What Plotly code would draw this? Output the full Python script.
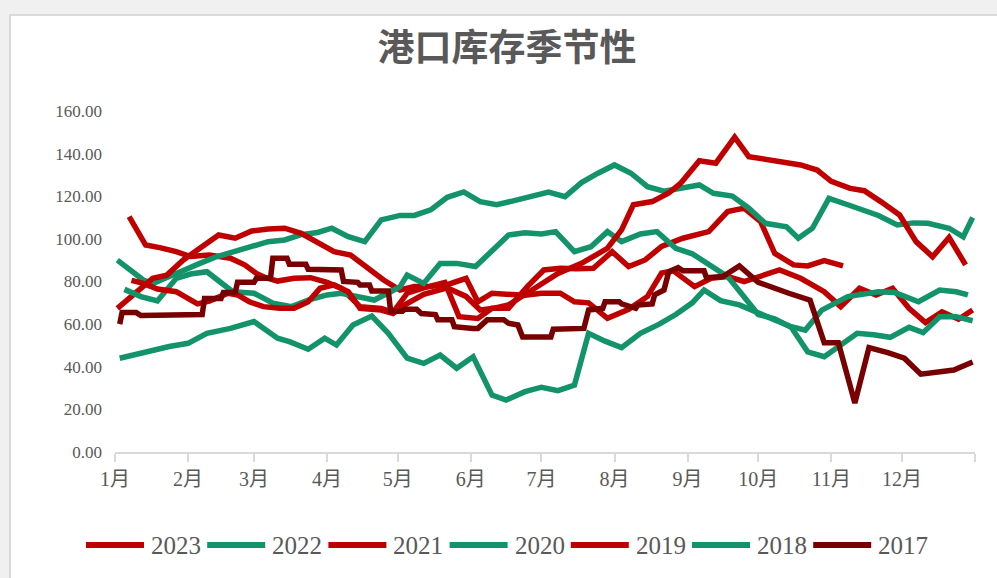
import pandas as pd
import plotly.graph_objects as go

TITLE = "港口库存季节性"
MONTH_LABELS = [f"{m}月" for m in range(1, 13)]
Y_TICKS = [0, 20, 40, 60, 80, 100, 120, 140, 160]

# day offsets from Jan 1 (seasonal axis) and inventory values
day_2023 = [6, 13, 19, 26, 32, 40, 49, 55, 60, 64, 69, 76, 83, 90, 96, 104, 113, 118, 124, 131,
            140, 146, 154, 160, 167, 175, 182, 189, 196, 203, 211, 218, 225, 232, 241, 252, 260, 267, 274, 280,
            288, 294, 301, 309]
val_2023 = [110.4, 97.1, 95.9, 94.0, 91.7, 92.4, 90.9, 87.8, 83.8, 81.8, 80.2, 81.5, 81.8, 79.6, 76.8, 68.2, 67.4, 65.5, 74.5, 77.0,
            79.5, 63.5, 62.7, 67.4, 67.4, 77.6, 85.4, 86.2, 86.0, 86.2, 94.0, 87.0, 90.1, 96.5, 100.3, 103.4, 112.8, 114.4, 108.1, 93.2,
            87.8, 87.3, 89.8, 87.3]

day_2022 = [1, 12, 16, 22, 26, 36, 43, 53, 65, 72, 79, 86, 92, 99, 106, 113, 121, 127, 134, 141,
            148, 155, 162, 169, 177, 184, 191, 198, 205, 212, 219, 226, 233, 240, 248, 254, 262, 269, 276, 285,
            290, 296, 303, 311, 318, 324, 332, 339, 345, 354, 360, 364]
val_2022 = [90.0, 80.7, 79.0, 82.3, 83.8, 88.5, 91.6, 94.8, 98.7, 99.5, 102.0, 103.0, 105.0, 101.0, 98.7, 108.9, 111.0, 111.0, 113.6, 119.5,
            122.0, 117.5, 116.0, 117.8, 119.8, 122.0, 119.8, 126.4, 130.8, 134.7, 130.8, 124.5, 122.4, 123.7, 125.3, 121.4, 120.1, 114.4, 107.3, 105.7,
            100.3, 105.0, 119.0, 116.0, 113.5, 111.0, 106.5, 107.5, 107.3, 105.0, 101.0, 110.0]

day_2021 = [1, 8, 16, 22, 29, 36, 44, 51, 58, 65, 72, 79, 86, 93, 100, 107, 114, 121, 127, 133,
            141, 149, 154, 160, 167, 174, 181, 189, 195, 201, 209, 218, 226, 232, 237, 246, 253, 260, 267, 274,
            282, 291, 301, 308, 316, 323, 330, 337, 344, 351, 358, 364]
val_2021 = [67.4, 73.7, 81.5, 83.0, 90.1, 95.6, 101.8, 100.3, 103.7, 104.6, 105.0, 102.6, 98.0, 94.0, 92.4, 86.2, 80.7, 76.0, 77.6, 77.6,
            78.5, 81.5, 70.5, 74.5, 73.7, 73.5, 74.5, 74.5, 70.5, 70.0, 62.7, 67.0, 73.0, 84.0, 85.0, 77.6, 81.5, 82.3, 80.0, 82.3,
            85.4, 81.5, 75.2, 68.2, 76.8, 73.7, 76.8, 67.4, 60.7, 65.8, 62.3, 66.6]

day_2020 = [4, 11, 18, 26, 32, 39, 50, 59, 67, 75, 82, 90, 96, 103, 110, 117, 121, 124, 131, 138,
            145, 153, 160, 167, 174, 181, 187, 195, 202, 209, 215, 223, 230, 238, 245, 252, 260, 265, 273, 280,
            287, 294, 301, 307, 315, 322, 329, 337, 343, 350, 357, 364]
val_2020 = [76.3, 72.9, 70.9, 81.5, 83.5, 84.6, 75.2, 74.5, 69.8, 68.2, 71.3, 73.7, 74.5, 72.9, 71.3, 75.2, 77.6, 83.0, 79.1, 88.5,
            88.5, 87.0, 94.8, 101.8, 102.9, 102.3, 103.4, 94.0, 96.3, 103.4, 98.7, 102.3, 103.4, 95.6, 93.0, 87.8, 82.3, 75.5, 64.5, 62.5,
            58.5, 47.0, 44.7, 49.4, 55.7, 55.0, 53.8, 58.5, 56.0, 63.5, 63.5, 61.6]

day_2019 = [7, 12, 18, 26, 35, 40, 48, 52, 57, 63, 70, 76, 82, 87, 93, 99, 104, 113, 118, 123,
            131, 141, 149, 155, 161, 167, 177, 188, 198, 209, 215, 220, 228, 235, 240, 248, 255, 263, 269, 276,
            282, 291, 298, 304, 312, 318, 325, 333, 340, 347, 354, 361]
val_2019 = [80.5, 79.1, 76.5, 75.2, 69.5, 70.8, 74.5, 73.7, 70.5, 68.2, 67.4, 67.4, 70.5, 76.8, 78.4, 75.2, 67.4, 66.6, 65.0, 69.0,
            74.0, 77.0, 73.0, 66.6, 67.5, 69.0, 76.0, 83.8, 88.5, 95.6, 104.2, 116.0, 117.5, 121.5, 126.0, 136.7, 135.5, 147.7, 138.6, 137.5,
            136.4, 134.7, 132.3, 127.0, 123.7, 122.6, 117.5, 111.2, 98.7, 91.6, 100.7, 87.8]

day_2018 = [2, 9, 16, 23, 31, 39, 49, 59, 69, 74, 82, 89, 94, 101, 109, 116, 124, 131, 138, 145,
            152, 160, 166, 174, 181, 188, 195, 201, 208, 215, 223, 231, 238, 245, 250, 257, 265, 272, 280, 287,
            293, 300, 311, 324, 331, 341, 350, 357, 362]
val_2018 = [44.0, 46.0, 48.0, 49.5, 51.0, 55.7, 58.0, 61.2, 53.4, 51.8, 48.2, 53.4, 50.2, 59.6, 63.8, 55.7, 44.0, 41.6, 45.5, 39.3,
            44.7, 26.7, 24.4, 28.3, 30.4, 28.8, 31.4, 55.7, 52.0, 49.0, 55.7, 60.0, 64.5, 70.0, 76.0, 71.0, 69.0, 65.5, 62.0, 58.8,
            57.2, 66.6, 72.9, 75.2, 74.8, 70.5, 76.0, 75.2, 73.7]

day_2017 = [2, 3, 9, 11, 37, 38, 45, 46, 51, 52, 59, 60, 66, 67, 73, 74, 81, 82, 96, 97,
            103, 104, 108, 109, 116, 117, 122, 123, 128, 130, 136, 137, 143, 144, 152, 154, 158, 165, 167, 171,
            173, 185, 186, 199, 201, 207, 208, 214, 215, 221, 222, 228, 229, 233, 235, 239, 241, 250, 251, 258,
            265, 273, 286, 295, 301, 307, 314, 320, 328, 335, 342, 350, 356, 364]
val_2017 = [60.0, 65.4, 65.4, 64.0, 64.5, 72.0, 72.0, 74.8, 74.8, 79.6, 79.6, 81.5, 81.5, 90.9, 90.9, 88.1, 88.1, 85.7, 85.4, 80.0,
            79.6, 78.4, 78.4, 75.5, 75.5, 66.0, 66.0, 67.0, 67.0, 65.0, 64.5, 62.0, 62.0, 58.8, 58.0, 58.0, 62.0, 62.0, 60.4, 59.6,
            54.0, 54.0, 57.6, 58.0, 66.6, 67.4, 70.5, 70.5, 69.5, 67.4, 69.0, 69.5, 73.7, 76.0, 84.6, 86.5, 85.0, 85.0, 81.8, 82.3,
            87.3, 79.6, 74.5, 71.2, 51.3, 51.3, 23.0, 49.0, 46.6, 44.0, 36.5, 37.3, 38.5, 42.2]

RED = "#C00000"
GREEN = "#12936A"
DARK_RED = "#780000"

series = [
    ("2023", day_2023, val_2023, RED),
    ("2022", day_2022, val_2022, GREEN),
    ("2021", day_2021, val_2021, RED),
    ("2020", day_2020, val_2020, GREEN),
    ("2019", day_2019, val_2019, RED),
    ("2018", day_2018, val_2018, GREEN),
    ("2017", day_2017, val_2017, DARK_RED),
]

base = pd.Timestamp("2023-01-01")


def to_dates(days):
    return [base + pd.Timedelta(days=d) for d in days]


fig = go.Figure()
for name, days, vals, color in series:
    fig.add_trace(go.Scatter(
        x=to_dates(days), y=vals, mode="lines", name=name,
        line=dict(color=color, width=5.5), showlegend=False,
    ))

# plot area in pixels
L, R, T, B = 115, 22, 111, 126
W, H = 997, 578
pw, ph = W - L - R, H - T - B


def px_x(x):
    return (x - L) / pw


def px_y(y):
    return (H - B - y) / ph


TEXT = "#595959"
FONT = "Liberation Serif, Noto Sans CJK SC, serif"

shapes = [dict(type="rect", xref="paper", yref="paper", layer="below",
               x0=px_x(10), x1=px_x(1010), y0=px_y(600), y1=px_y(15),
               fillcolor="white", line=dict(color="#D0D0D0", width=1.5))]
annotations = []
# legend drawn by hand so the line samples match the long Excel swatches
for i, (name, _, _, color) in enumerate(series):
    x0 = 86 + i * 121.2
    shapes.append(dict(type="line", xref="paper", yref="paper",
                       x0=px_x(x0), x1=px_x(x0 + 58), y0=px_y(545), y1=px_y(545),
                       line=dict(color=color, width=6)))
    annotations.append(dict(xref="paper", yref="paper", x=px_x(x0 + 63), y=px_y(545),
                            text=name, showarrow=False, xanchor="left", yanchor="middle",
                            font=dict(family=FONT, size=25, color=TEXT)))

month_starts = [base + pd.DateOffset(months=m) for m in range(13)]

fig.update_layout(
    width=W, height=H,
    margin=dict(l=L, r=R, t=T, b=B),
    paper_bgcolor="#F0F0F0",
    plot_bgcolor="rgba(0,0,0,0)",
    title=dict(text=f"<b>{TITLE}</b>", x=507 / W, xanchor="center", y=1 - 48 / H, yanchor="middle",
               font=dict(family="Noto Sans CJK SC", size=37, color=TEXT)),
    xaxis=dict(
        type="date", range=[base, base + pd.Timedelta(days=365)],
        tickvals=month_starts, ticktext=MONTH_LABELS + [""],
        showgrid=False, zeroline=False,
        showline=True, linecolor="#D9D9D9", linewidth=2,
        ticks="outside", ticklen=8, tickwidth=2, tickcolor="#D9D9D9",
        tickfont=dict(family=FONT, size=20, color=TEXT),
    ),
    yaxis=dict(
        range=[0, 160], tickvals=Y_TICKS, tickformat=".2f",
        showgrid=False, zeroline=False, showline=False,
        ticklabelstandoff=12,
        tickfont=dict(family=FONT, size=17, color=TEXT),
    ),
    shapes=shapes,
    annotations=annotations,
    showlegend=False,
)

fig.write_html("out.html", config={"displayModeBar": False},
               post_script="document.body.style.margin='0';")
